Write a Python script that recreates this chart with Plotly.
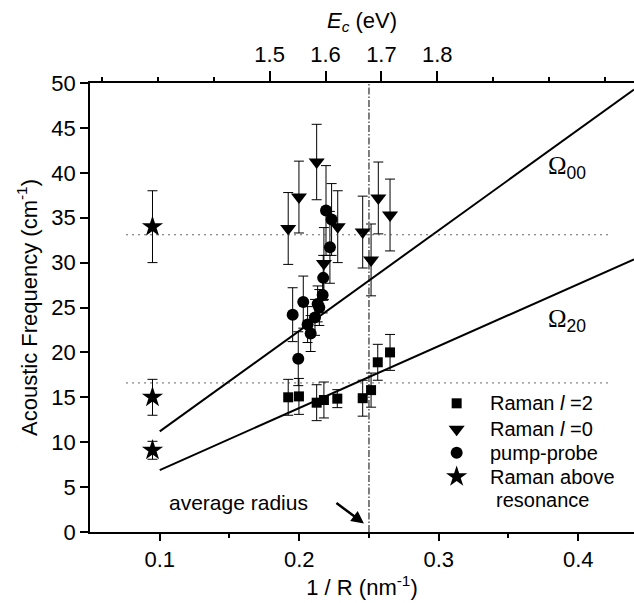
import plotly.graph_objects as go

# ---------------- data ----------------
inv_r_l2 = [0.1921, 0.1998, 0.2125, 0.2177, 0.2273, 0.2455, 0.2515, 0.2563, 0.2651]
freq_l2 = [15.0, 15.1, 14.4, 14.7, 14.85, 14.9, 15.8, 18.9, 20.0]
err_l2 = [2.0, 2.0, 2.0, 2.0, 1.0, 2.0, 1.9, 2.0, 2.0]

inv_r_l0 = [0.1921, 0.1998, 0.2125, 0.2177, 0.2276, 0.2455, 0.2515, 0.2567, 0.2651]
freq_l0 = [33.8, 37.3, 41.2, 29.9, 34.0, 33.4, 30.3, 37.2, 35.3]
err_l0 = [4.0, 4.0, 4.2, 4.0, 4.0, 4.0, 4.0, 4.0, 4.0]

inv_r_pp = [0.1953, 0.1993, 0.2029, 0.2060, 0.2082, 0.2113, 0.2132, 0.2144, 0.2168, 0.2172, 0.2192, 0.2220, 0.2232]
freq_pp = [24.2, 19.3, 25.6, 23.1, 22.1, 23.9, 25.4, 25.0, 26.4, 28.3, 35.8, 31.7, 34.8]
err_pp = [3.0, 3.0, 2.9, 2.0, 2.0, 2.0, 2.0, 2.0, 2.0, 2.5, 5.0, 4.0, 4.0]

inv_r_above = [0.0948, 0.0948, 0.0948]
freq_above = [34.0, 15.0, 9.1]
err_above = [4.0, 2.0, 1.0]

# model lines Omega = slope * (1/R)
line_x = [0.1, 0.44]
slope_00 = 112.0
slope_20 = 69.0

# dotted reference levels
dotted_x = [0.076, 0.424]
level_high = 33.1
level_low = 16.6

avg_inv_r = 0.25

# axes
x_range = [0.05, 0.44]
x_ticks = [0.1, 0.2, 0.3, 0.4]
x_minor = [0.15, 0.25, 0.35]
y_range = [0, 50]
y_ticks = [0, 5, 10, 15, 20, 25, 30, 35, 40, 45, 50]
# top axis E_c (eV): linear map E = E_ref + k * (x - x_ref)
E_ref, x_ref, k_E = 1.5, 0.1788, 2.496
E_ticks = [1.5, 1.6, 1.7, 1.8]
E_minor = [1.2, 1.3, 1.4, 1.9, 2.0, 2.1]
E_range = [E_ref + k_E * (x_range[0] - x_ref), E_ref + k_E * (x_range[1] - x_ref)]

# legend entries (labels) and their layout (paper fractions of the plot area)
legend_labels = ["Raman <i>l</i> =2", "Raman <i>l</i> =0", "pump-probe", "Raman above"]
legend_second_line = "resonance"
LEG_SYM_X = 0.674
LEG_TXT_X = 0.732
LEG_ROWS_Y = [0.2866, 0.2287, 0.1766, 0.1232]
LEG_ROW2_Y = 0.0713

FONT = "Liberation Sans, Arial, sans-serif"
FS = 22

symbols = ["square", "triangle-down", "circle", "star"]
sizes = [10, 14, 12, 16]

fig = go.Figure()


def err(arr):
    return dict(type="data", array=arr, color="black", thickness=1, width=5)


series = [(inv_r_l2, freq_l2, err_l2), (inv_r_l0, freq_l0, err_l0),
          (inv_r_pp, freq_pp, err_pp), (inv_r_above, freq_above, err_above)]
for (xs, ys, es), sym, sz, lab in zip(series, symbols, sizes, legend_labels):
    fig.add_trace(go.Scatter(x=xs, y=ys, mode="markers", name=lab, showlegend=False,
                             marker=dict(symbol=sym, size=sz, color="black"), error_y=err(es)))

# model lines
fig.add_trace(go.Scatter(x=line_x, y=[slope_00 * v for v in line_x], mode="lines",
                         line=dict(color="black", width=2), showlegend=False, hoverinfo="skip"))
fig.add_trace(go.Scatter(x=line_x, y=[slope_20 * v for v in line_x], mode="lines",
                         line=dict(color="black", width=2), showlegend=False, hoverinfo="skip"))

# dotted levels
for lv in (level_high, level_low):
    fig.add_trace(go.Scatter(x=dotted_x, y=[lv, lv], mode="lines",
                             line=dict(color="#333333", width=1, dash="1.5px,4.5px"),
                             showlegend=False, hoverinfo="skip"))

# average radius vertical line
fig.add_trace(go.Scatter(x=[avg_inv_r, avg_inv_r], y=y_range, mode="lines",
                         line=dict(color="black", width=1, dash="7px,2px,1.5px,2px"),
                         showlegend=False, hoverinfo="skip"))

# invisible trace for the top axis
fig.add_trace(go.Scatter(x=E_range, y=[None, None], xaxis="x2", mode="lines",
                         showlegend=False, hoverinfo="skip"))

# legend keys on an overlay axis spanning the plot area (0..1)
for sym, sz, ly in zip(symbols, sizes, LEG_ROWS_Y):
    fig.add_trace(go.Scatter(x=[LEG_SYM_X], y=[ly], xaxis="x3", yaxis="y3", mode="markers",
                             marker=dict(symbol=sym, size=sz, color="black"),
                             showlegend=False, hoverinfo="skip"))
for lab, ly in zip(legend_labels, LEG_ROWS_Y):
    fig.add_annotation(x=LEG_TXT_X, y=ly, xref="paper", yref="paper", xanchor="left",
                       yanchor="middle", showarrow=False, text=lab,
                       font=dict(family=FONT, size=20, color="black"))
fig.add_annotation(x=LEG_TXT_X + 0.01, y=LEG_ROW2_Y, xref="paper", yref="paper", xanchor="left",
                   yanchor="middle", showarrow=False, text=legend_second_line,
                   font=dict(family=FONT, size=20, color="black"))

fig.add_annotation(x=0.2464, y=0.94, ax=0.2256, ay=3.35, xref="x", yref="y",
                   axref="x", ayref="y", showarrow=True, arrowhead=2, arrowsize=1,
                   arrowwidth=2.5, arrowcolor="black", text="")
fig.add_annotation(x=0.1567, y=3.34, xref="x", yref="y", showarrow=False,
                   text="average radius", font=dict(family=FONT, size=21, color="black"))

omega = '<span style="font-family:Liberation Serif">Ω</span><sub>{}</sub>'
fig.add_annotation(x=0.392, y=40.6, xref="x", yref="y", showarrow=False,
                   text=omega.format("00"), font=dict(family=FONT, size=25, color="black"))
fig.add_annotation(x=0.392, y=23.6, xref="x", yref="y", showarrow=False,
                   text=omega.format("20"), font=dict(family=FONT, size=25, color="black"))

axis_common = dict(showline=True, linecolor="black", linewidth=1.5, ticks="outside",
                   tickcolor="black", tickwidth=1.5, showgrid=False, zeroline=False,
                   tickfont=dict(family=FONT, size=FS, color="black"))

fig.update_layout(
    width=634, height=603,
    margin=dict(l=90, r=0, t=83, b=71, autoexpand=False),
    paper_bgcolor="white", plot_bgcolor="white",
    font=dict(family=FONT, size=FS, color="black"),
    showlegend=False,
    xaxis=dict(range=x_range, tickvals=x_ticks, ticklen=7,
               minor=dict(tickvals=x_minor, ticks="outside", ticklen=4, tickcolor="black", tickwidth=1.5),
               title=dict(text="1 / R (nm<sup>-1</sup>)", standoff=6,
                          font=dict(family=FONT, size=FS, color="black")),
               **axis_common),
    xaxis2=dict(range=E_range, overlaying="x", side="top", anchor="y", tickvals=E_ticks,
                ticklen=10,
                minor=dict(tickvals=E_minor, ticks="outside", ticklen=4, tickcolor="black", tickwidth=1.5),
                title=dict(text="<i>E</i><sub><i>c</i></sub> (eV)", standoff=8,
                           font=dict(family=FONT, size=FS, color="black")),
                **axis_common),
    xaxis3=dict(range=[0, 1], overlaying="x", visible=False, fixedrange=True),
    yaxis3=dict(range=[0, 1], overlaying="y", visible=False, fixedrange=True),
    yaxis=dict(range=y_range, tickvals=y_ticks, ticklen=8,
               title=dict(text="Acoustic Frequency (cm<sup>-1</sup>)", standoff=8,
                          font=dict(family=FONT, size=FS, color="black")),
               **axis_common),
)

fig.write_html("out.html")
